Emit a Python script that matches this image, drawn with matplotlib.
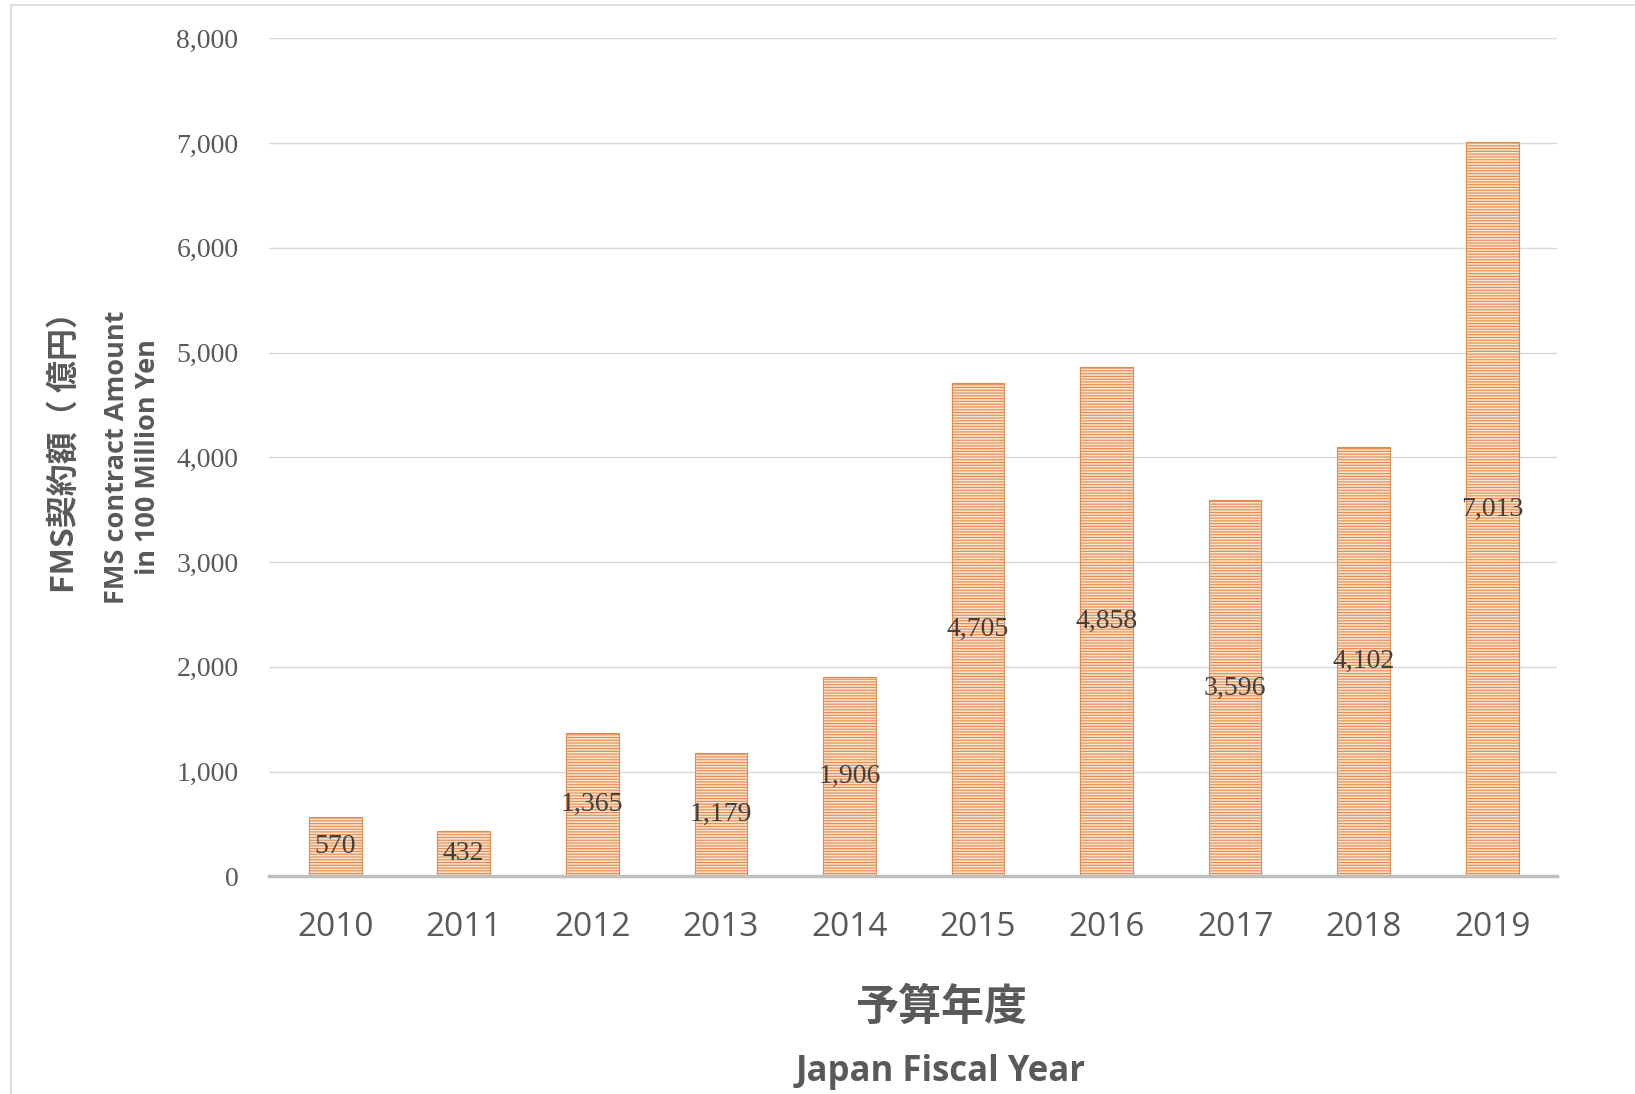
import matplotlib
matplotlib.use("Agg")
import matplotlib.pyplot as plt
from matplotlib.patches import Rectangle

# data
years = ["2010", "2011", "2012", "2013", "2014", "2015", "2016", "2017", "2018", "2019"]
amounts = [570, 432, 1365, 1179, 1906, 4705, 4858, 3596, 4102, 7013]
yticks = [0, 1000, 2000, 3000, 4000, 5000, 6000, 7000, 8000]

plt.rcParams['font.family'] = ['Noto Sans CJK JP', 'DejaVu Sans']
plt.rcParams['hatch.linewidth'] = 0.8

fig = plt.figure(figsize=(16.35, 10.94), dpi=100)
ax = fig.add_axes([0.1645, 0.199, 0.7875, 0.766])

bars = ax.bar(range(len(years)), amounts, width=0.41, color='#FBE2CC',
              edgecolor='#E58A4E', hatch='------', linewidth=0.8, zorder=3)

serif = ['Liberation Serif', 'DejaVu Serif']
for i, v in enumerate(amounts):
    ax.text(i, v / 2, f"{v:,}", ha='center', va='center', fontsize=20,
            color='#404040', family=serif, zorder=4)

ax.set_ylim(0, 8000)
ax.set_xlim(-0.515, 9.5)
ax.set_yticks(yticks)
ax.set_yticklabels([f"{t:,}" for t in yticks], fontsize=20, color='#595959', family=serif)
ax.set_xticks(range(len(years)))
ax.set_xticklabels(years, fontsize=24, color='#595959', family=['Open Sans', 'DejaVu Sans'])
ax.tick_params(axis='both', length=0)
ax.tick_params(axis='x', pad=25)
ax.tick_params(axis='y', pad=22)

ax.yaxis.grid(True, color='#D9D9D9', linewidth=1, zorder=0)
for s in ['top', 'right', 'left']:
    ax.spines[s].set_visible(False)
ax.spines['bottom'].set_color('#BFBFBF')
ax.spines['bottom'].set_linewidth(2.5)
ax.spines['bottom'].set_zorder(5)

# axis titles
fig.text(0.576, 0.080, "予算年度", ha='center', va='center', fontsize=31,
         fontweight='bold', color='#595959')
fig.text(0.575, 0.020, "Japan Fiscal Year", ha='center', va='center', fontsize=25,
         fontweight='bold', color='#595959', family=['Open Sans', 'DejaVu Sans'])
fig.text(0.040, 0.594, "FMS契約額（ 億円）", rotation=90, ha='center', va='center',
         fontsize=23, fontweight='bold', color='#595959')
fig.text(0.081, 0.582, "FMS contract Amount\nin 100 Million Yen", rotation=90,
         ha='center', va='center', fontsize=19.5, fontweight='bold', color='#595959',
         family=['Open Sans', 'DejaVu Sans'], linespacing=1.25)

# outer frame
fig.patches.append(Rectangle((0.0065, -0.01), 1.0, 1.005, transform=fig.transFigure,
                             fill=False, edgecolor='#D9D9D9', linewidth=1.2))

fig.savefig("out.png", dpi=100)
